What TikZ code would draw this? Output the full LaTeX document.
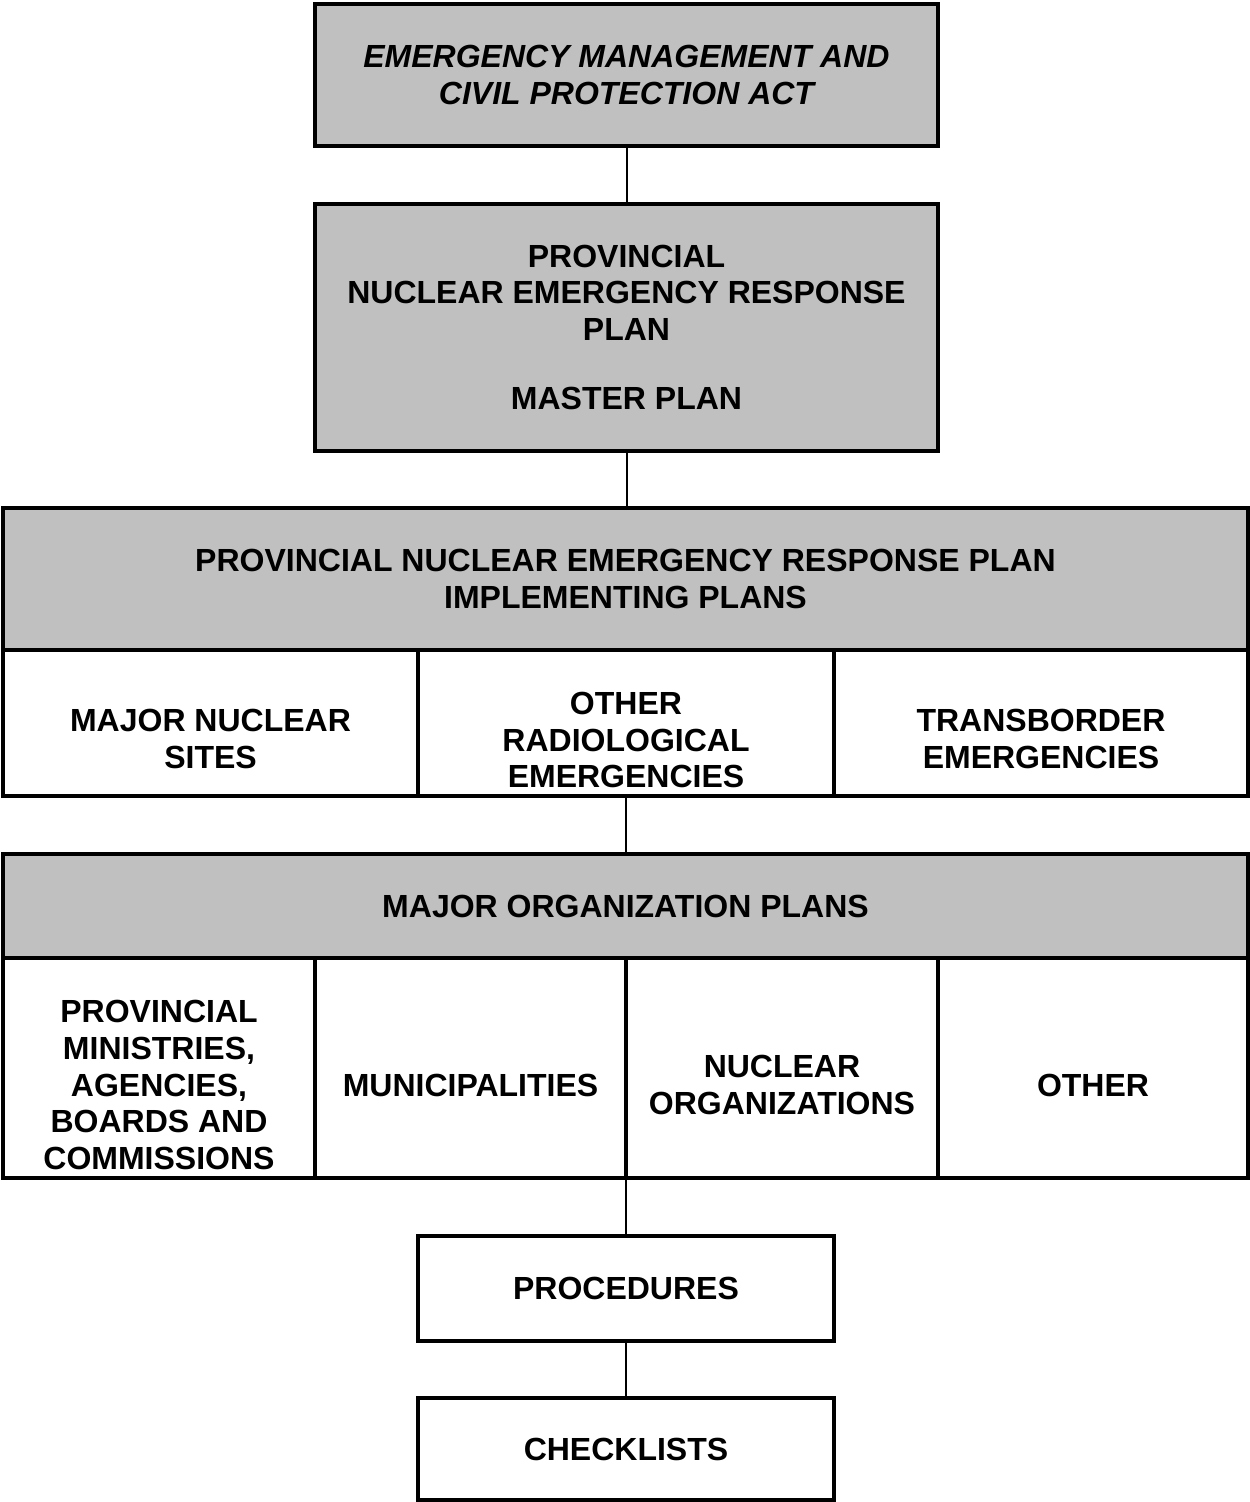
\documentclass[tikz,border=0pt]{standalone}
\usepackage{fontspec}
\setmainfont{Liberation Sans}
\definecolor{boxgray}{RGB}{192,192,192}
\begin{document}
\begin{tikzpicture}[x=0.375pt,y=-0.375pt,
  box/.style={draw=black, line width=1.3pt, inner sep=0pt, rectangle, font=\bfseries\fontsize{12}{13.7}\selectfont, align=center},
  graybox/.style={box, fill=boxgray},
  whitebox/.style={box, fill=white},
  txt/.style={font=\bfseries\fontsize{12}{13.7}\selectfont, align=center, inner sep=0pt},
  conn/.style={draw=black, line width=0.75pt}]
\useasboundingbox (0,0) rectangle (1250,1502);

% top boxes
\node[graybox, minimum width=233.625pt, minimum height=53.25pt] (act) at (626.5,75)
  {\itshape EMERGENCY MANAGEMENT AND\\\itshape CIVIL PROTECTION ACT};
\node[graybox, minimum width=233.625pt, minimum height=92.625pt] (master) at (626.5,327.5)
  {PROVINCIAL\\NUCLEAR EMERGENCY RESPONSE\\PLAN\\[12.2pt]MASTER PLAN};

% implementing plans
\node[graybox, minimum width=466.875pt, minimum height=53.25pt] (impl) at (625.5,579)
  {PROVINCIAL NUCLEAR EMERGENCY RESPONSE PLAN\\IMPLEMENTING PLANS};
\node[whitebox, minimum width=155.625pt, minimum height=54.75pt] (c1) at (210.5,723) {};
\node[whitebox, minimum width=156pt, minimum height=54.75pt] (c2) at (626,723) {};
\node[whitebox, minimum width=155.25pt, minimum height=54.75pt] (c3) at (1041,723) {};
\node[txt] (t1) at (210.5,739) {MAJOR NUCLEAR\\SITES};
\node[txt] (t2) at (626,740) {OTHER\\RADIOLOGICAL\\EMERGENCIES};
\node[txt] (t3) at (1041,739) {TRANSBORDER\\EMERGENCIES};

% major organization plans
\node[graybox, minimum width=466.875pt, minimum height=39pt] (org) at (625.5,906)
  {MAJOR ORGANIZATION PLANS};
\node[whitebox, minimum width=117pt, minimum height=82.5pt] (d1) at (159,1068) {};
\node[whitebox, minimum width=116.625pt, minimum height=82.5pt] (d2) at (470.5,1068) {};
\node[whitebox, minimum width=117pt, minimum height=82.5pt] (d3) at (782,1068) {};
\node[whitebox, minimum width=116.25pt, minimum height=82.5pt] (d4) at (1093,1068) {};
\node[txt] (u1) at (159,1085) {PROVINCIAL\\MINISTRIES,\\AGENCIES,\\BOARDS AND\\COMMISSIONS};
\node[txt] (u2) at (470.5,1085) {MUNICIPALITIES};
\node[txt] (u3) at (782,1085) {NUCLEAR\\ORGANIZATIONS};
\node[txt] (u4) at (1093,1085) {OTHER};

% procedures and checklists
\node[whitebox, minimum width=156pt, minimum height=39.375pt] (proc) at (626,1288.5) {PROCEDURES};
\node[whitebox, minimum width=156pt, minimum height=38.25pt] (chk) at (626,1449) {CHECKLISTS};

% connectors
\draw[conn] (act.south) -- (master.north);
\draw[conn] (master.south) -- (master.south |- impl.north);
\draw[conn] (c2.south) -- (c2.south |- org.north);
\draw[conn] (proc.north) -- (proc.north |- d2.south);
\draw[conn] (proc.south) -- (chk.north);
\end{tikzpicture}
\end{document}
